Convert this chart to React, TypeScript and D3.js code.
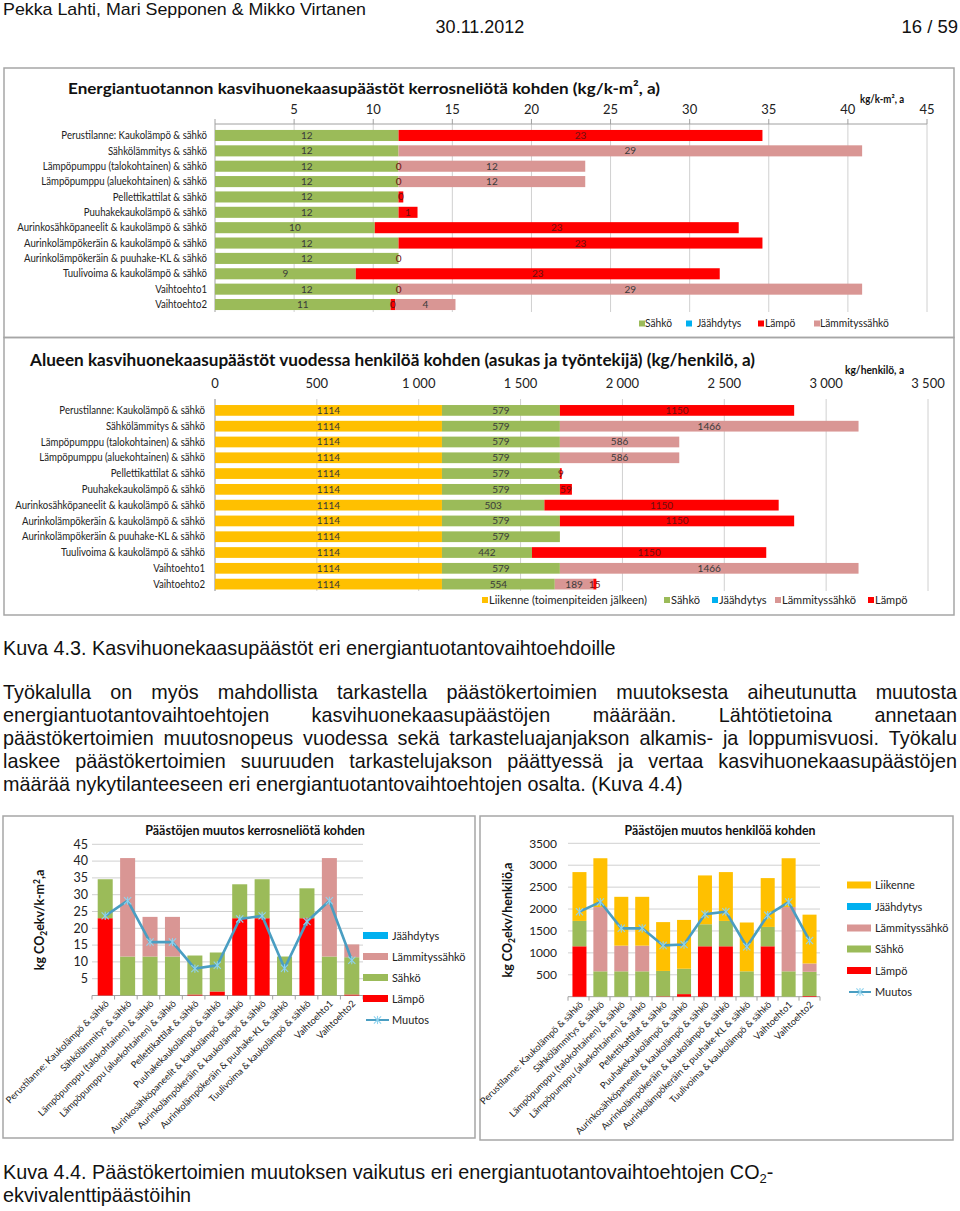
import React, { useMemo } from 'react';
import * as d3 from 'd3';

// ---------------- DATA ----------------
const categories = [
  'Perustilanne: Kaukolämpö & sähkö',
  'Sähkölämmitys & sähkö',
  'Lämpöpumppu (talokohtainen) & sähkö',
  'Lämpöpumppu (aluekohtainen) & sähkö',
  'Pellettikattilat & sähkö',
  'Puuhakekaukolämpö & sähkö',
  'Aurinkosähköpaneelit & kaukolämpö & sähkö',
  'Aurinkolämpökeräin & kaukolämpö & sähkö',
  'Aurinkolämpökeräin & puuhake-KL & sähkö',
  'Tuulivoima & kaukolämpö & sähkö',
  'Vaihtoehto1',
  'Vaihtoehto2',
];

// kg/k-m², a
const areaSahko = [11.6, 11.6, 11.6, 11.6, 11.6, 11.6, 10.1, 11.6, 11.6, 8.9, 11.6, 11.1];
const areaJaahdytys: (number | null)[] = [null, null, null, null, null, null, null, null, null, null, null, null];
const areaLampo: (number | null)[] = [23.0, null, 0, 0, 0.3, 1.2, 23.0, 23.0, 0, 23.0, 0, 0.3];
const areaLammityssahko: (number | null)[] = [null, 29.3, 11.8, 11.8, null, null, null, null, null, null, 29.3, 3.8];
const areaMuutos = [23.7, 28.2, 15.9, 15.9, 8.0, 9.0, 22.8, 23.7, 8.1, 22.0, 28.2, 10.5];
const areaTicks = [5, 10, 15, 20, 25, 30, 35, 40, 45];

// kg/henkilö, a
const personLiikenne = [1114, 1114, 1114, 1114, 1114, 1114, 1114, 1114, 1114, 1114, 1114, 1114];
const personSahko = [579, 579, 579, 579, 579, 579, 503, 579, 579, 442, 579, 554];
const personJaahdytys: (number | null)[] = [null, null, null, null, null, null, null, null, null, null, null, null];
const personLammityssahko: (number | null)[] = [null, 1466, 586, 586, null, null, null, null, null, null, 1466, 189];
const personLampo: (number | null)[] = [1150, null, null, null, 9, 59, 1150, 1150, null, 1150, null, 15];
const personMuutos = [1940, 2160, 1560, 1560, 1170, 1190, 1880, 1940, 1140, 1860, 2160, 1280];
const personTicks = [0, 500, 1000, 1500, 2000, 2500, 3000, 3500];

const bottomAreaTicks = [5, 10, 15, 20, 25, 30, 35, 40, 45];
const bottomPersonTicks = [500, 1000, 1500, 2000, 2500, 3000, 3500];

const bodyLines = [
  'Työkalulla on myös mahdollista tarkastella päästökertoimien muutoksesta aiheutunutta muutosta',
  'energiantuotantovaihtoehtojen kasvihuonekaasupäästöjen määrään. Lähtötietoina annetaan',
  'päästökertoimien muutosnopeus vuodessa sekä tarkasteluajanjakson alkamis- ja loppumisvuosi. Työkalu',
  'laskee päästökertoimien suuruuden tarkastelujakson päättyessä ja vertaa kasvihuonekaasupäästöjen',
  'määrää nykytilanteeseen eri energiantuotantovaihtoehtojen osalta. (Kuva 4.4)',
];

// ---------------- STYLE ----------------
const COL: Record<string, string> = {
  sahko: '#9BBB59',
  jaahdytys: '#00B0F0',
  lampo: '#FF0000',
  lsahko: '#D99694',
  liikenne: '#FFC000',
  muutos: '#4A9EC2',
};
const CAL = 'Lato, "Open Sans", sans-serif';
const ARIAL = '"Liberation Sans", Arial, sans-serif';
const GRID = '#d0d0d0';
const AXIS = '#a0a0a0';
const FRAME = '#a6a6a6';
const BODY = 19.8;

let _ctx: CanvasRenderingContext2D | null = null;
function textW(t: string, font: string) {
  if (!_ctx) _ctx = document.createElement('canvas').getContext('2d')!;
  _ctx.font = font;
  return _ctx.measureText(t).width;
}

function CT({
  text,
  size,
  weight = 400,
  k = 0.9,
  ...rest
}: {
  text: string;
  size: number;
  weight?: number;
  k?: number;
  [key: string]: any;
}) {
  const w = textW(text, `${weight} ${size}px Lato`);
  return (
    <text fontFamily={CAL} fontSize={size} fontWeight={weight} textLength={w * k} lengthAdjust="spacingAndGlyphs" {...rest}>
      {text}
    </text>
  );
}

type Series = { key: string; values: (number | null)[] };
type Seg = { key: string; raw: number | null; start: number; end: number };

function stackRows(series: Series[], n: number): Seg[][] {
  const out: Seg[][] = [];
  for (let i = 0; i < n; i++) {
    let acc = 0;
    const row: Seg[] = [];
    for (const s of series) {
      const raw = s.values[i];
      const v = raw ?? 0;
      row.push({ key: s.key, raw, start: acc, end: acc + v });
      acc += v;
    }
    out.push(row);
  }
  return out;
}

const fmtLocale = d3.formatLocale({ decimal: ',', thousands: '\u00a0', grouping: [3], currency: ['', ''] });
const fmtThousands = fmtLocale.format(',');

function Star({ x, y, c }: { x: number; y: number; c: string }) {
  const r = 3.6;
  return (
    <g stroke={c} strokeWidth={1.1}>
      <line x1={x - r} y1={y - r} x2={x + r} y2={y + r} />
      <line x1={x - r} y1={y + r} x2={x + r} y2={y - r} />
      <line x1={x} y1={y - r - 0.5} x2={x} y2={y + r + 0.5} />
    </g>
  );
}

export default function App() {
  // ---------- Chart 1 (top) ----------
  const x1 = d3.scaleLinear().domain([0, 45]).range([215, 927]);
  const y1 = d3.scaleBand<number>().domain(d3.range(12)).range([127.8, 312.2]).paddingInner(0.28).paddingOuter(0.14);
  const stack1 = stackRows(
    [
      { key: 'sahko', values: areaSahko },
      { key: 'jaahdytys', values: areaJaahdytys },
      { key: 'lampo', values: areaLampo },
      { key: 'lsahko', values: areaLammityssahko },
    ],
    12
  );

  // ---------- Chart 2 ----------
  const x2 = d3.scaleLinear().domain([0, 3500]).range([215, 928]);
  const y2 = d3.scaleBand<number>().domain(d3.range(12)).range([402.5, 592]).paddingInner(0.32).paddingOuter(0.16);
  const stack2 = stackRows(
    [
      { key: 'liikenne', values: personLiikenne },
      { key: 'sahko', values: personSahko },
      { key: 'jaahdytys', values: personJaahdytys },
      { key: 'lsahko', values: personLammityssahko },
      { key: 'lampo', values: personLampo },
    ],
    12
  );

  // ---------- Chart 3 (bottom left) ----------
  const x3 = d3.scaleBand<number>().domain(d3.range(12)).range([94, 363]).paddingInner(0.33).paddingOuter(0.165);
  const y3 = d3.scaleLinear().domain([0, 45]).range([995.5, 844.3]);
  const stack3 = stackRows(
    [
      { key: 'lampo', values: areaLampo },
      { key: 'sahko', values: areaSahko },
      { key: 'lsahko', values: areaLammityssahko },
      { key: 'jaahdytys', values: areaJaahdytys },
    ],
    12
  );
  const line3 = d3
    .line<number>()
    .x((_, i) => x3(i)! + x3.bandwidth() / 2)
    .y((d) => y3(d));

  // ---------- Chart 4 (bottom right) ----------
  const x4 = d3.scaleBand<number>().domain(d3.range(12)).range([569, 820]).paddingInner(0.33).paddingOuter(0.165);
  const y4 = d3.scaleLinear().domain([0, 3500]).range([996.7, 843.3]);
  const stack4 = stackRows(
    [
      { key: 'lampo', values: personLampo },
      { key: 'sahko', values: personSahko },
      { key: 'lsahko', values: personLammityssahko },
      { key: 'jaahdytys', values: personJaahdytys },
      { key: 'liikenne', values: personLiikenne },
    ],
    12
  );
  const line4 = d3
    .line<number>()
    .x((_, i) => x4(i)! + x4.bandwidth() / 2)
    .y((d) => y4(d));

  // ---------- justified body text ----------
  const bodyWords = useMemo(() => {
    const font = `${BODY}px "Liberation Sans"`;
    const bodyLeft = 3;
    const bodyRight = 957;
    return bodyLines.map((line, li) => {
      const words = line.split(' ');
      const widths = words.map((w) => textW(w, font));
      const justify = li < bodyLines.length - 1;
      const space = textW(' ', font);
      const gap = justify ? (bodyRight - bodyLeft - d3.sum(widths)) / (words.length - 1) : space;
      let x = bodyLeft;
      return words.map((w, i) => {
        const pos = x;
        x += widths[i] + gap;
        return { w, x: pos };
      });
    });
  }, []);

  const hLabel = (seg: Seg, xs: d3.ScaleLinear<number, number>, yc: number, key: string) => {
    if (seg.raw === null || seg.key === 'jaahdytys') return null;
    const cx = (xs(seg.start) + xs(seg.end)) / 2;
    return (
      <text
        key={key}
        x={cx}
        y={yc}
        dy="0.35em"
        textAnchor="middle"
        fontFamily={CAL}
        fontSize={10}
        fill={seg.key === 'lampo' ? '#6b1010' : '#3a3a3a'}
      >
        {Math.round(seg.raw)}
      </text>
    );
  };

  const legendTop = [
    { key: 'sahko', label: 'Sähkö', sx: 639, tx: 645 },
    { key: 'jaahdytys', label: 'Jäähdytys', sx: 686, tx: 697 },
    { key: 'lampo', label: 'Lämpö', sx: 758, tx: 765 },
    { key: 'lsahko', label: 'Lämmityssähkö', sx: 814, tx: 820 },
  ];
  const legendSecond = [
    { key: 'liikenne', label: 'Liikenne (toimenpiteiden jälkeen)', sx: 482, tx: 489 },
    { key: 'sahko', label: 'Sähkö', sx: 664, tx: 671 },
    { key: 'jaahdytys', label: 'Jäähdytys', sx: 712, tx: 719 },
    { key: 'lsahko', label: 'Lämmityssähkö', sx: 775, tx: 782 },
    { key: 'lampo', label: 'Lämpö', sx: 868, tx: 875 },
  ];
  const legend3 = [
    { key: 'jaahdytys', label: 'Jäähdytys', y: 935.5 },
    { key: 'lsahko', label: 'Lämmityssähkö', y: 956.5 },
    { key: 'sahko', label: 'Sähkö', y: 977.5 },
    { key: 'lampo', label: 'Lämpö', y: 998.5 },
  ];
  const legend4 = [
    { key: 'liikenne', label: 'Liikenne', y: 885 },
    { key: 'jaahdytys', label: 'Jäähdytys', y: 906.5 },
    { key: 'lsahko', label: 'Lämmityssähkö', y: 928 },
    { key: 'sahko', label: 'Sähkö', y: 949 },
    { key: 'lampo', label: 'Lämpö', y: 970.5 },
  ];

  return (
    <svg
      width={960}
      height={1211}
      viewBox="0 0 960 1211"
      style={{ position: 'absolute', left: 0, top: 0, background: '#fff' }}
    >
      <rect x={0} y={0} width={960} height={1211} fill="#fff" />

      {/* ---------- page header ---------- */}
      <text x={3} y={15} fontFamily={ARIAL} fontSize={17} fill="#111" textLength={363} lengthAdjust="spacingAndGlyphs">
        Pekka Lahti, Mari Sepponen &amp; Mikko Virtanen
      </text>
      <text x={480} y={33} textAnchor="middle" fontFamily={ARIAL} fontSize={18} fill="#111">
        30.11.2012
      </text>
      <text x={958} y={33} textAnchor="end" fontFamily={ARIAL} fontSize={18.5} fill="#111">
        16 / 59
      </text>

      {/* ---------- frames ---------- */}
      <rect x={4} y={68} width={950} height={269.5} fill="none" stroke={FRAME} strokeWidth={1.5} />
      <rect x={4} y={337.5} width={950} height={277.5} fill="none" stroke={FRAME} strokeWidth={1.5} />
      <rect x={3} y={816} width={472} height={322} fill="none" stroke={FRAME} strokeWidth={1.5} />
      <rect x={480} y={816} width={473} height={324} fill="none" stroke={FRAME} strokeWidth={1.5} />

      {/* ================= CHART 1 ================= */}
      <text x={68} y={94} fontFamily={CAL} fontWeight={700} fontSize={16} fill="#111" textLength={592} lengthAdjust="spacingAndGlyphs">
        Energiantuotannon kasvihuonekaasupäästöt kerrosneliötä kohden (kg/k-m², a)
      </text>
      <CT text="kg/k-m², a" size={10.5} weight={700} k={0.92} x={860} y={103} fill="#111" />
      {areaTicks.map((t) => (
        <g key={'t1' + t}>
          <line x1={x1(t)} x2={x1(t)} y1={124} y2={312} stroke={GRID} />
          <line x1={x1(t)} x2={x1(t)} y1={119} y2={124} stroke={AXIS} />
          <text x={x1(t)} y={114} textAnchor="middle" fontFamily={CAL} fontSize={13} fill="#222">
            {t}
          </text>
        </g>
      ))}
      <line x1={x1(0)} x2={x1(45)} y1={124} y2={124} stroke={AXIS} />
      <line x1={x1(0)} x2={x1(0)} y1={119} y2={124} stroke={AXIS} />
      <line x1={x1(0)} x2={x1(0)} y1={124} y2={312} stroke={AXIS} />
      {stack1.map((row, i) => {
        const yb = y1(i)!;
        const bh = y1.bandwidth();
        return (
          <g key={'r1' + i}>
            <CT text={categories[i]} size={10.5} k={0.915} x={207} y={yb + bh / 2} dy="0.35em" textAnchor="end" fill="#222" />
            {row.map((s) =>
              s.end > s.start ? (
                <rect key={s.key} x={x1(s.start)} y={yb} width={x1(s.end) - x1(s.start)} height={bh} fill={COL[s.key]} />
              ) : null
            )}
            {row.map((s) => hLabel(s, x1, yb + bh / 2, 'l' + s.key))}
          </g>
        );
      })}
      {legendTop.map((l) => (
        <g key={'lg1' + l.key}>
          <rect x={l.sx} y={320.5} width={6} height={6} fill={COL[l.key]} />
          <CT text={l.label} size={11} k={0.93} x={l.tx} y={323.5} dy="0.35em" fill="#222" />
        </g>
      ))}

      {/* ================= CHART 2 ================= */}
      <text x={30} y={366} fontFamily={CAL} fontWeight={700} fontSize={17} fill="#111" textLength={725} lengthAdjust="spacingAndGlyphs">
        Alueen kasvihuonekaasupäästöt vuodessa henkilöä kohden (asukas ja työntekijä) (kg/henkilö, a)
      </text>
      <CT text="kg/henkilö, a" size={11} weight={700} k={0.93} x={845} y={374} fill="#111" />
      {personTicks.map((t) => (
        <g key={'t2' + t}>
          <line x1={x2(t)} x2={x2(t)} y1={399} y2={591} stroke={GRID} />
          <text x={x2(t)} y={388} textAnchor="middle" fontFamily={CAL} fontSize={13} fill="#222">
            {fmtThousands(t)}
          </text>
        </g>
      ))}
      <line x1={x2(0)} x2={x2(0)} y1={399} y2={591} stroke={AXIS} />
      {stack2.map((row, i) => {
        const yb = y2(i)!;
        const bh = y2.bandwidth();
        return (
          <g key={'r2' + i}>
            <CT text={categories[i]} size={10.5} k={0.915} x={205} y={yb + bh / 2} dy="0.35em" textAnchor="end" fill="#222" />
            {row.map((s) =>
              s.end > s.start ? (
                <rect key={s.key} x={x2(s.start)} y={yb} width={x2(s.end) - x2(s.start)} height={bh} fill={COL[s.key]} />
              ) : null
            )}
            {row.map((s) => hLabel(s, x2, yb + bh / 2, 'l' + s.key))}
          </g>
        );
      })}
      {legendSecond.map((l) => (
        <g key={'lg2' + l.key}>
          <rect x={l.sx} y={597} width={6} height={6} fill={COL[l.key]} />
          <text x={l.tx} y={600} dy="0.35em" fontFamily={CAL} fontSize={11} fill="#222">
            {l.label}
          </text>
        </g>
      ))}

      {/* ---------- captions & body text ---------- */}
      <text x={3} y={655} fontFamily={ARIAL} fontSize={BODY} fill="#111">
        Kuva 4.3. Kasvihuonekaasupäästöt eri energiantuotantovaihtoehdoille
      </text>
      {bodyWords.map((ws, li) =>
        ws.map((w, wi) => (
          <text key={`b${li}-${wi}`} x={w.x} y={699 + li * 23} fontFamily={ARIAL} fontSize={BODY} fill="#111">
            {w.w}
          </text>
        ))
      )}
      <text x={3} y={1179} fontFamily={ARIAL} fontSize={BODY} fill="#111">
        Kuva 4.4. Päästökertoimien muutoksen vaikutus eri energiantuotantovaihtoehtojen CO
        <tspan dy={4} fontSize={13}>2</tspan>
        <tspan dy={-4}>-</tspan>
      </text>
      <text x={3} y={1202} fontFamily={ARIAL} fontSize={BODY} fill="#111">
        ekvivalenttipäästöihin
      </text>

      {/* ================= CHART 3 (bottom left) ================= */}
      <text x={255} y={835} textAnchor="middle" fontFamily={CAL} fontWeight={700} fontSize={12.5} fill="#111">
        Päästöjen muutos kerrosneliötä kohden
      </text>
      {bottomAreaTicks.map((t) => (
        <g key={'t3' + t}>
          <line x1={92} x2={363} y1={y3(t)} y2={y3(t)} stroke={GRID} />
          <text x={88} y={y3(t)} dy="0.35em" textAnchor="end" fontFamily={CAL} fontSize={12.5} fill="#222">
            {t}
          </text>
        </g>
      ))}
      <line x1={92} x2={363} y1={y3(0)} y2={y3(0)} stroke={AXIS} />
      {d3.range(13).map((k) => {
        const xx = 92 + (k * (363 - 92)) / 12;
        return <line key={'tk3' + k} x1={xx} x2={xx} y1={y3(0)} y2={y3(0) + 4} stroke={AXIS} />;
      })}
      {stack3.map((row, i) =>
        row.map((s) =>
          s.end > s.start ? (
            <rect
              key={`b3-${i}-${s.key}`}
              x={x3(i)}
              y={y3(s.end)}
              width={x3.bandwidth()}
              height={y3(s.start) - y3(s.end)}
              fill={COL[s.key]}
            />
          ) : null
        )
      )}
      <path d={line3(areaMuutos) || ''} fill="none" stroke={COL.muutos} strokeWidth={2.6} />
      {areaMuutos.map((v, i) => (
        <Star key={'m3' + i} x={x3(i)! + x3.bandwidth() / 2} y={y3(v)} c="#8fd3ee" />
      ))}
      <text transform="translate(44,920) rotate(-90)" textAnchor="middle" fontFamily={CAL} fontWeight={700} fontSize={12.5} fill="#111">
        kg CO<tspan dy={3} fontSize={8.5}>2</tspan>
        <tspan dy={-3}>ekv/k-m</tspan>
        <tspan dy={-4} fontSize={8.5}>2</tspan>
        <tspan dy={4}>,a</tspan>
      </text>
      {categories.map((c, i) => (
        <text
          key={'xl3' + i}
          transform={`translate(${x3(i)! + x3.bandwidth() / 2 + 2},${1002}) rotate(-45)`}
          textAnchor="end"
          dy="0.35em"
          fontFamily={CAL}
          fontSize={9.3}
          fill="#222"
        >
          {c}
        </text>
      ))}
      {legend3.map((l) => (
        <g key={'lg3' + l.key}>
          <rect x={363} y={l.y - 3.5} width={25} height={7} fill={COL[l.key]} />
          <CT text={l.label} size={12} k={0.91} x={392} y={l.y} dy="0.35em" fill="#222" />
        </g>
      ))}
      <line x1={366} x2={389} y1={1020} y2={1020} stroke={COL.muutos} strokeWidth={2} />
      <Star x={377.5} y={1020} c="#8fd3ee" />
      <CT text="Muutos" size={12} k={0.91} x={392} y={1020} dy="0.35em" fill="#222" />

      {/* ================= CHART 4 (bottom right) ================= */}
      <text x={720} y={835} textAnchor="middle" fontFamily={CAL} fontWeight={700} fontSize={12.3} fill="#111">
        Päästöjen muutos henkilöä kohden
      </text>
      {bottomPersonTicks.map((t) => (
        <g key={'t4' + t}>
          <line x1={568} x2={820} y1={y4(t)} y2={y4(t)} stroke={GRID} />
          <text x={557} y={y4(t)} dy="0.35em" textAnchor="end" fontFamily={CAL} fontSize={12} fill="#222">
            {t}
          </text>
        </g>
      ))}
      <line x1={568} x2={820} y1={y4(0)} y2={y4(0)} stroke={AXIS} />
      {d3.range(13).map((k) => {
        const xx = 568 + (k * (820 - 568)) / 12;
        return <line key={'tk4' + k} x1={xx} x2={xx} y1={y4(0)} y2={y4(0) + 4} stroke={AXIS} />;
      })}
      {stack4.map((row, i) =>
        row.map((s) =>
          s.end > s.start ? (
            <rect
              key={`b4-${i}-${s.key}`}
              x={x4(i)}
              y={y4(s.end)}
              width={x4.bandwidth()}
              height={y4(s.start) - y4(s.end)}
              fill={COL[s.key]}
            />
          ) : null
        )
      )}
      <path d={line4(personMuutos) || ''} fill="none" stroke={COL.muutos} strokeWidth={2.6} />
      {personMuutos.map((v, i) => (
        <Star key={'m4' + i} x={x4(i)! + x4.bandwidth() / 2} y={y4(v)} c="#8fd3ee" />
      ))}
      <text transform="translate(512,920) rotate(-90)" textAnchor="middle" fontFamily={CAL} fontWeight={700} fontSize={12.5} fill="#111">
        kg CO<tspan dy={3} fontSize={8.5}>2</tspan>
        <tspan dy={-3}>ekv/henkilö,a</tspan>
      </text>
      {categories.map((c, i) => (
        <text
          key={'xl4' + i}
          transform={`translate(${x4(i)! + x4.bandwidth() / 2 + 2},${1003}) rotate(-45)`}
          textAnchor="end"
          dy="0.35em"
          fontFamily={CAL}
          fontSize={9.3}
          fill="#222"
        >
          {c}
        </text>
      ))}
      {legend4.map((l) => (
        <g key={'lg4' + l.key}>
          <rect x={847} y={l.y - 3.5} width={24} height={7} fill={COL[l.key]} />
          <CT text={l.label} size={12} k={0.91} x={875} y={l.y} dy="0.35em" fill="#222" />
        </g>
      ))}
      <line x1={849} x2={871} y1={992} y2={992} stroke={COL.muutos} strokeWidth={2} />
      <Star x={860} y={992} c="#8fd3ee" />
      <CT text="Muutos" size={12} k={0.91} x={875} y={992} dy="0.35em" fill="#222" />
    </svg>
  );
}
